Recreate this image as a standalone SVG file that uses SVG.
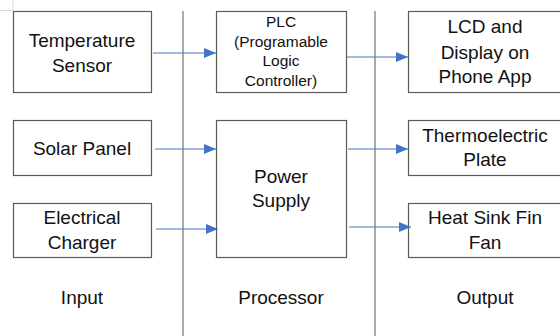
<svg xmlns="http://www.w3.org/2000/svg" width="560" height="336" viewBox="0 0 560 336">
<defs>
<style>
.box{fill:#fff;stroke:#595959;stroke-width:1.2}
.t{font-family:"Liberation Sans",Arial,sans-serif;font-size:19px;fill:#111;text-anchor:middle}
.s{font-size:15.5px}
.div{stroke:#7f7f7f;stroke-width:1.3}
.con{stroke:#4472C4;stroke-width:1;fill:none;marker-end:url(#ah)}
</style>
<marker id="ah" markerWidth="12" markerHeight="10" refX="12" refY="5" orient="auto" markerUnits="userSpaceOnUse">
<path d="M0,0 L12,5 L0,10 Z" fill="#4472C4"/>
</marker>
</defs>
<rect width="560" height="336" fill="#fff"/>
<g id="margin-marks" stroke="#d9d9d9" stroke-width="1">
<line x1="13" y1="0" x2="13" y2="10"/>
<line x1="0" y1="10.5" x2="13" y2="10.5"/>
</g>
<g id="dividers">
<line class="div" x1="183" y1="11" x2="183" y2="336"/>
<line class="div" x1="375" y1="11" x2="375" y2="336"/>
</g>
<g id="temperature-sensor">
<rect class="box" x="13.5" y="11.5" width="138" height="81"/>
<text class="t" x="82" y="47">Temperature</text>
<text class="t" x="82" y="72">Sensor</text>
</g>
<g id="solar-panel">
<rect class="box" x="13.5" y="120.5" width="138" height="55"/>
<text class="t" x="82" y="155">Solar Panel</text>
</g>
<g id="electrical-charger">
<rect class="box" x="13.5" y="203.5" width="138" height="54"/>
<text class="t" x="82" y="224">Electrical</text>
<text class="t" x="82" y="249">Charger</text>
</g>
<g id="plc">
<rect class="box" x="216.5" y="11.5" width="130" height="81"/>
<text class="t s" x="281" y="27">PLC</text>
<text class="t s" x="281" y="47">(Programable</text>
<text class="t s" x="281" y="66">Logic</text>
<text class="t s" x="281" y="86">Controller)</text>
</g>
<g id="power-supply">
<rect class="box" x="216.5" y="120.5" width="130" height="137"/>
<text class="t" x="281" y="183">Power</text>
<text class="t" x="281" y="207">Supply</text>
</g>
<g id="lcd-display">
<rect class="box" x="408.5" y="11.5" width="170" height="81"/>
<text class="t" x="485" y="33">LCD and</text>
<text class="t" x="485" y="59">Display on</text>
<text class="t" x="485" y="83">Phone App</text>
</g>
<g id="thermoelectric-plate">
<rect class="box" x="408.5" y="120.5" width="170" height="55"/>
<text class="t" x="485" y="142">Thermoelectric</text>
<text class="t" x="485" y="166">Plate</text>
</g>
<g id="heat-sink-fan">
<rect class="box" x="408.5" y="203.5" width="170" height="54"/>
<text class="t" x="485" y="224">Heat Sink Fin</text>
<text class="t" x="485" y="249">Fan</text>
</g>
<g id="column-labels">
<text class="t" x="82" y="304">Input</text>
<text class="t" x="281" y="304">Processor</text>
<text class="t" x="485" y="304">Output</text>
</g>
<g id="connectors">
<line class="con" x1="153" y1="53" x2="216" y2="53"/>
<line class="con" x1="155" y1="149" x2="216" y2="149"/>
<line class="con" x1="156" y1="229" x2="218" y2="229"/>
<line class="con" x1="347" y1="57" x2="408" y2="57"/>
<line class="con" x1="348" y1="149" x2="408" y2="149"/>
<line class="con" x1="349" y1="227" x2="411" y2="227"/>
</g>
</svg>
